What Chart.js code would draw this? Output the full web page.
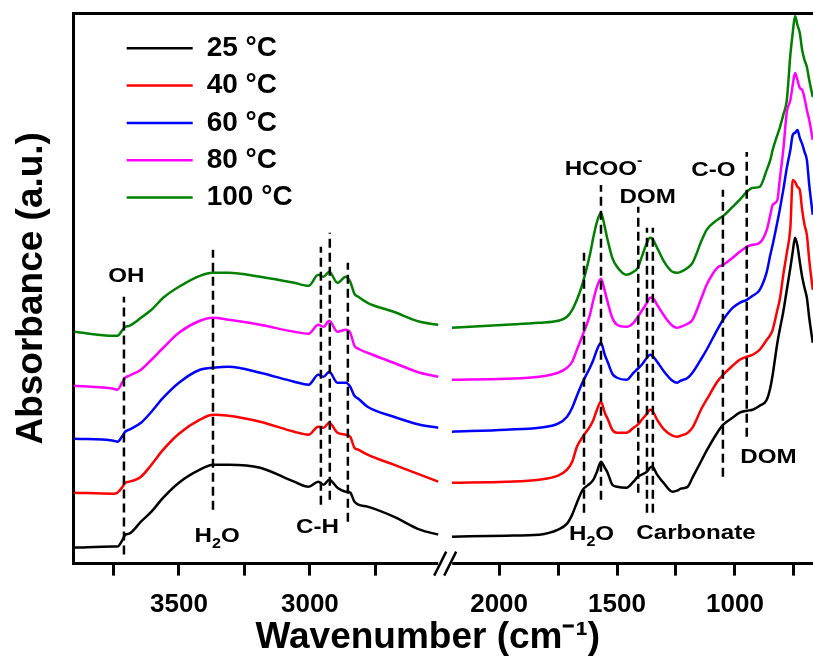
<!DOCTYPE html>
<html>
<head>
<meta charset="utf-8">
<style>
  html, body { margin: 0; padding: 0; background: #fff; }
  #wrap { width: 813px; height: 662px; }
</style>
<script src="https://cdn.jsdelivr.net/npm/chart.js@4.4.1/dist/chart.umd.min.js"></script>
</head>
<body>
<div id="wrap"><canvas id="ftir" width="813" height="662"></canvas></div>
<script>
// wavenumbers (cm-1)
const WN_HIGH = [3900, 3750, 3735, 3715, 3705, 3690, 3645, 3605, 3560, 3500, 3420, 3370, 3310, 3190,
  3060, 3005, 2968, 2948, 2926, 2895, 2863, 2846, 2830, 2815, 2780, 2680, 2580, 2510];
const WN_LOW = [2200, 1970, 1830, 1750, 1712, 1690, 1670, 1645, 1615, 1600, 1585, 1568, 1552, 1540,
  1520, 1500, 1460, 1430, 1412, 1395, 1373, 1360, 1350, 1330, 1300, 1265, 1245, 1230, 1200, 1180,
  1140, 1120, 1075, 1050, 1010, 980, 950, 925, 895, 865, 850, 840, 820, 810, 795, 780, 765, 755,
  745, 735, 725, 715, 705, 695, 685, 670];

// absorbance (a.u., stacked offsets included)
const ABS_25_HIGH = [16, 17, 17, 24, 29, 30, 42, 52, 66, 81, 94, 99, 99, 96, 82, 77, 82, 79, 84, 76, 72, 71, 62, 59, 57, 47, 34, 29];
const ABS_40_HIGH = [71, 70, 71, 77, 81, 82, 87, 99, 114, 130, 144, 149, 148, 142, 132, 129, 137, 136, 141, 131, 129, 127, 116, 114, 109, 99, 89, 82];
const ABS_60_HIGH = [125, 123, 122, 128, 132, 134, 141, 152, 166, 181, 194, 196, 197, 191, 182, 179, 189, 187, 192, 181, 181, 177, 168, 165, 157, 147, 139, 136];
const ABS_80_HIGH = [178, 175, 174, 182, 186, 188, 194, 204, 216, 231, 243, 246, 244, 239, 232, 230, 239, 237, 243, 232, 234, 231, 218, 215, 211, 201, 191, 187];
const ABS_100_HIGH = [232, 228, 228, 234, 237, 238, 246, 254, 266, 277, 288, 291, 291, 287, 281, 278, 289, 287, 292, 281, 287, 282, 270, 267, 261, 252, 242, 239];

const ABS_25_LOW = [27, 28, 29, 34, 40, 49, 61, 74, 80, 84, 92, 102, 96, 91, 79, 77, 76, 82, 87, 89,
  92, 96, 97, 89, 80, 72, 73, 75, 77, 86, 104, 113, 131, 139, 146, 151, 153, 154, 158, 164,
  176, 189, 221, 234, 252, 274, 296, 312, 326, 318, 302, 287, 276, 266, 246, 221];
const ABS_40_LOW = [81, 82, 84, 88, 94, 102, 117, 127, 137, 144, 154, 162, 151, 145, 134, 131, 131, 136, 139, 144,
  150, 154, 153, 144, 134, 128, 127, 128, 131, 136, 156, 164, 182, 189, 198, 204, 207, 209, 214, 224,
  229, 234, 254, 264, 289, 311, 336, 384, 382, 377, 374, 354, 339, 329, 304, 274];
const ABS_60_LOW = [132, 134, 136, 140, 147, 156, 168, 182, 196, 204, 214, 221, 209, 202, 190, 186, 184, 191, 195, 199,
  206, 209, 208, 202, 192, 183, 181, 183, 186, 191, 206, 214, 234, 244, 256, 261, 264, 268, 274, 292,
  309, 319, 342, 354, 374, 396, 414, 429, 431, 434, 426, 420, 412, 404, 379, 349];
const ABS_80_LOW = [184, 185, 187, 191, 196, 202, 214, 229, 249, 264, 277, 285, 273, 262, 246, 239, 237, 241, 247, 253,
  261, 266, 266, 259, 248, 238, 236, 237, 240, 244, 267, 279, 296, 299, 306, 312, 317, 319, 321, 334,
  349, 359, 364, 384, 414, 452, 464, 479, 491, 484, 476, 474, 466, 454, 444, 424];
const ABS_100_LOW = [236, 239, 241, 243, 247, 254, 264, 281, 309, 327, 342, 351, 337, 324, 306, 297, 289, 292, 296, 307,
  321, 326, 325, 316, 302, 292, 291, 292, 296, 301, 324, 334, 344, 348, 357, 364, 372, 376, 377, 394,
  404, 414, 429, 436, 449, 464, 509, 531, 548, 539, 531, 514, 504, 497, 484, 467];

const SERIES_LABELS = ["25 °C", "40 °C", "60 °C", "80 °C", "100 °C"];
const SERIES_COLORS = ["#000000", "#ff0000", "#0000ff", "#ff00ff", "#008000"];

const TICKS_HIGH = [3750, 3500, 3250, 3000, 2750];
const TICKS_LOW = [2000, 1750, 1500, 1250, 1000, 750];

// dashed peak markers: [wavenumber, from, to]
const MARKS_HIGH = [[3710, 9, 267], [3370, 54, 314], [2958, 59, 317], [2924, 64, 331], [2855, 42, 301]];
const MARKS_LOW = [[1640, 51, 311], [1568, 64, 379], [1410, 71, 357], [1373, 51, 336], [1348, 51, 336],
  [1051, 87, 374], [950, 127, 412]];

// peak names: [text, axis, wavenumber, absorbance of baseline]  (_x subscript, ^x superscript)
const PEAK_NAMES = [
  ["OH", "xHigh", 3701, 282],
  ["H_2O", "xHigh", 3354, 22],
  ["C-H", "xHigh", 2971, 31],
  ["HCOO^-", "xLow", 1557, 389],
  ["DOM", "xLow", 1370, 361],
  ["C-O", "xLow", 1091, 388],
  ["DOM", "xLow", 858, 101],
  ["H_2O", "xLow", 1608, 24],
  ["Carbonate", "xLow", 1165, 25]
];

const FONT = "'Liberation Sans', Arial, sans-serif";
Chart.defaults.font.family = FONT;
Chart.defaults.color = "#000";

const highSeries = [ABS_25_HIGH, ABS_40_HIGH, ABS_60_HIGH, ABS_80_HIGH, ABS_100_HIGH];
const lowSeries = [ABS_25_LOW, ABS_40_LOW, ABS_60_LOW, ABS_80_LOW, ABS_100_LOW];

const datasets = [];
SERIES_LABELS.forEach((label, i) => {
  datasets.push({
    label: label,
    data: WN_HIGH.map((w, j) => ({ x: w, y: highSeries[i][j] })),
    xAxisID: "xHigh",
    borderColor: SERIES_COLORS[i],
    backgroundColor: SERIES_COLORS[i],
    borderWidth: 2.5,
    pointRadius: 0,
    cubicInterpolationMode: "monotone",
    order: 1
  });
});
SERIES_LABELS.forEach((label, i) => {
  datasets.push({
    label: label,
    data: WN_LOW.map((w, j) => ({ x: w, y: lowSeries[i][j] })),
    xAxisID: "xLow",
    borderColor: SERIES_COLORS[i],
    backgroundColor: SERIES_COLORS[i],
    borderWidth: 2.5,
    pointRadius: 0,
    cubicInterpolationMode: "monotone",
    order: 1
  });
});

function addMarks(list, axisId) {
  list.forEach((m) => {
    datasets.push({
      label: "mark",
      data: [{ x: m[0], y: m[1] }, { x: m[0], y: m[2] }],
      xAxisID: axisId,
      borderColor: "#000",
      borderWidth: 2.5,
      borderDash: [9, 5],
      pointRadius: 0,
      order: 0
    });
  });
}
addMarks(MARKS_HIGH, "xHigh");
addMarks(MARKS_LOW, "xLow");

function drawRich(ctx, text, cx, baseY) {
  const parts = [];
  for (let k = 0; k < text.length; k++) {
    const c = text[k];
    if (c === "_" || c === "^") {
      parts.push({ t: text[k + 1], mode: c });
      k++;
    } else if (parts.length && parts[parts.length - 1].mode === "") {
      parts[parts.length - 1].t += c;
    } else {
      parts.push({ t: c, mode: "" });
    }
  }
  const big = "bold 21px " + FONT;
  const small = "bold 14px " + FONT;
  let total = 0;
  parts.forEach((p) => {
    ctx.font = p.mode ? small : big;
    p.w = ctx.measureText(p.t).width;
    total += p.w;
  });
  ctx.save();
  ctx.translate(cx, baseY);
  ctx.scale(1.15, 1);
  ctx.fillStyle = "#000";
  ctx.textAlign = "left";
  ctx.textBaseline = "alphabetic";
  let x = -total / 2;
  parts.forEach((p) => {
    ctx.font = p.mode ? small : big;
    const dy = p.mode === "_" ? 6 : p.mode === "^" ? -10 : 0;
    ctx.fillText(p.t, x, dy);
    x += p.w;
  });
  ctx.restore();
}

const spectraDecor = {
  id: "spectraDecor",
  afterLayout(chart) {
    // nudge the legend block to where the reference has it
    chart.legend.left += 44;
    chart.legend.top += 25;
  },
  afterDatasetsDraw(chart) {
    const ctx = chart.ctx;
    const y = chart.scales.y;
    PEAK_NAMES.forEach((p) => {
      const sx = chart.scales[p[1]];
      drawRich(ctx, p[0], sx.getPixelForValue(p[2]), y.getPixelForValue(p[3]));
    });
  },
  afterDraw(chart) {
    // axis break "//"
    const ctx = chart.ctx;
    const bx = chart.scales.xHigh.right + 2;
    const by = chart.chartArea.bottom;
    ctx.save();
    ctx.fillStyle = "#fff";
    ctx.fillRect(bx - 7, by - 3, 14, 6);
    ctx.strokeStyle = "#000";
    ctx.lineWidth = 2.5;
    ctx.beginPath();
    ctx.moveTo(bx - 11, by + 12);
    ctx.lineTo(bx + 1, by - 12);
    ctx.moveTo(bx - 1, by + 12);
    ctx.lineTo(bx + 11, by - 12);
    ctx.stroke();
    ctx.restore();
  }
};

function segmentAxis(min, max, tickValues) {
  return {
    type: "linear",
    position: "bottom",
    stack: "wn",
    stackWeight: 1,
    reverse: true,
    min: min,
    max: max,
    afterBuildTicks: (scale) => {
      scale.ticks = tickValues.map((v) => ({ value: v }));
    },
    ticks: {
      autoSkip: false,
      maxRotation: 0,
      padding: 8,
      font: { size: 26, weight: "bold", lineHeight: 1.615 },
      callback: (v) => (v % 500 === 0 ? String(v) : "")
    },
    grid: { display: true, drawOnChartArea: false, drawTicks: true, tickLength: 12, tickWidth: 3, color: "#000" },
    border: { display: true, width: 3, color: "#000" }
  };
}

new Chart(document.getElementById("ftir"), {
  type: "line",
  data: { datasets: datasets },
  plugins: [spectraDecor],
  options: {
    responsive: false,
    animation: false,
    events: [],
    layout: { padding: { left: 0, top: 13, right: 0, bottom: 0 } },
    scales: {
      xHigh: segmentAxis(2491, 3903, TICKS_HIGH),
      xLow: segmentAxis(669, 2237, TICKS_LOW),
      xTop: {
        type: "linear",
        position: "top",
        ticks: { display: false },
        grid: { display: false, drawTicks: false },
        border: { display: true, width: 3, color: "#000" }
      },
      xTitle: {
        type: "linear",
        position: "bottom",
        weight: 1,
        ticks: { display: false },
        grid: { display: false, drawTicks: false },
        border: { display: false },
        title: {
          display: true,
          text: "Wavenumber (cm\u207B\u00B9)   ",
          font: { size: 37, weight: "bold" },
          padding: { top: -18, bottom: 2 }
        }
      },
      y: {
        type: "linear",
        position: "left",
        min: 0,
        max: 551,
        ticks: { display: false },
        grid: { display: false, drawTicks: false },
        border: { display: true, width: 3, color: "#000" },
        title: {
          display: true,
          text: "Absorbance (a.u.)",
          font: { size: 37, weight: "bold" },
          padding: { top: 10, bottom: 19 }
        }
      }
    },
    plugins: {
      tooltip: { enabled: false },
      legend: {
        display: true,
        position: "chartArea",
        align: "start",
        labels: {
          filter: (item) => item.datasetIndex < 5,
          usePointStyle: true,
          pointStyle: "line",
          pointStyleWidth: 66,
          padding: 9.3,
          color: "#000",
          font: { size: 28, weight: "bold" }
        }
      }
    }
  }
});
</script>
</body>
</html>
